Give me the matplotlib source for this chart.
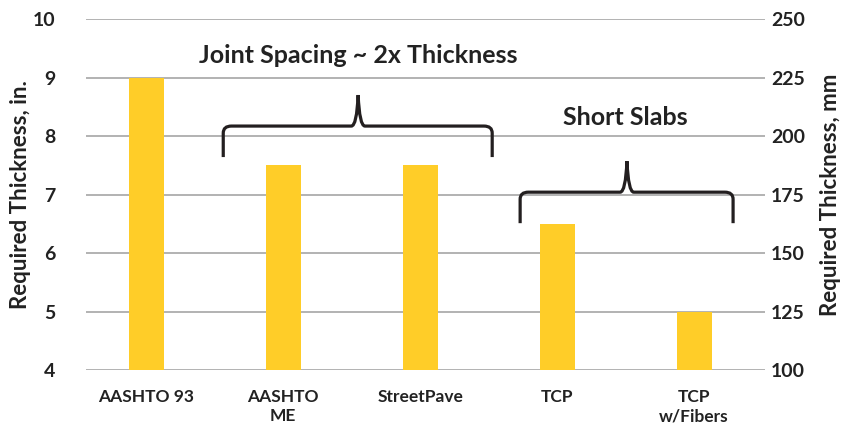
import numpy as np
import matplotlib.pyplot as plt
from matplotlib.path import Path
from matplotlib.patches import PathPatch

plt.rcParams['font.family'] = ['Lato', 'DejaVu Sans']
plt.rcParams['font.weight'] = 'bold'
plt.rcParams['axes.labelweight'] = 'bold'

methods = ['AASHTO 93', 'AASHTO\nME', 'StreetPave', 'TCP', 'TCP\nw/Fibers']
thickness_in = [9, 7.5, 7.5, 6.5, 5]


def brace(ax, x0, x1, xm, ybar, ybot, ypeak, rx=0.06, ry=0.12, dx=0.05):
    verts = [(x0, ybot), (x0, ybar - ry), (x0, ybar), (x0 + rx, ybar),
             (xm - dx, ybar), (xm - dx * 0.2, ybar), (xm, ypeak),
             (xm + dx * 0.2, ybar), (xm + dx, ybar),
             (x1 - rx, ybar), (x1, ybar), (x1, ybar - ry), (x1, ybot)]
    codes = [Path.MOVETO, Path.LINETO, Path.CURVE3, Path.CURVE3,
             Path.LINETO, Path.CURVE3, Path.CURVE3,
             Path.CURVE3, Path.CURVE3,
             Path.LINETO, Path.CURVE3, Path.CURVE3, Path.LINETO]
    ax.add_patch(PathPatch(Path(verts, codes), fill=False, lw=2.3,
                           edgecolor='#231F20', capstyle='butt', zorder=4))


fig = plt.figure(figsize=(8.56, 4.32), dpi=100)
ax = fig.add_axes([0.1005, 0.1435, 0.7935, 0.8125])
x = np.arange(len(methods))
ax.bar(x, thickness_in, width=0.255, bottom=0, color='#FFCD28', zorder=3)

ax.set_ylim(4, 10)
ax.set_xlim(-0.44, 4.52)
ax.set_yticks(range(4, 11))
ax.set_xticks(x)
ax.set_xticklabels(methods, fontsize=12.5, color='#222222')
ax.tick_params(axis='y', labelsize=14, length=0, pad=22, colors='#222222')
ax.tick_params(axis='x', length=0, pad=14)
ax.grid(axis='y', color='#A6A6A6', lw=1.2, zorder=0)
for s in ax.spines.values():
    s.set_visible(False)
ax.set_ylabel('Required Thickness, in.', fontsize=16, color='#222222', labelpad=1)

ax2 = ax.twinx()
ax2.set_ylim(100, 250)
ax2.set_yticks(range(100, 251, 25))
ax2.tick_params(axis='y', labelsize=14, length=0, pad=4, colors='#222222')
for s in ax2.spines.values():
    s.set_visible(False)
ax2.set_ylabel('Required Thickness, mm', fontsize=16, color='#222222', labelpad=11)

brace(ax, 0.562, 2.526, 1.547, 8.17, 7.64, 8.70)
brace(ax, 2.73, 4.285, 3.51, 7.04, 6.51, 7.57)
ax.text(1.547, 9.38, 'Joint Spacing ~ 2x Thickness', ha='center', va='center',
        fontsize=18, color='#222222')
ax.text(3.50, 8.32, 'Short Slabs', ha='center', va='center',
        fontsize=18, color='#222222')

fig.savefig('out.png', dpi=100)
